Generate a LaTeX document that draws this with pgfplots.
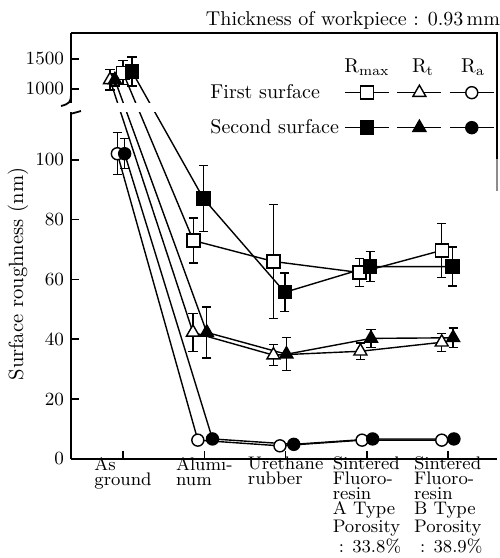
\documentclass[border=0pt]{standalone}
\usepackage{pgfplots}
\pgfplotsset{compat=1.18}
\begin{document}
\begin{tikzpicture}
\useasboundingbox (-35.5pt,-49.5pt) rectangle (214pt,229.5pt);
\begin{axis}[
  at={(0,0)}, anchor=south west,
  scale only axis, width=213pt, height=213pt,
  xmin=-0.64, xmax=4.60,
  ymin=0, ymax=1933,
  % broken axis: 0..115 linear, 1000..1933 compressed above the break
  y coord trafo/.code={\pgfmathparse{#1>400 ? 123.67+0.02*(#1-1000) : #1}},
  axis x line*=bottom, axis y line*=left,
  axis line style={-, line width=0.9pt},
  tick align=inside, major tick length=4pt,
  tick style={black, line width=0.8pt},
  xtick={0,1,2,3,4},
  xticklabels={{As\\ground},{Alumi-\\num},{Urethane\\rubber},
    {Sintered\\Fluoro-\\resin\\A Type\\Porosity\\\hspace*{3pt}: 33.8\%},
    {Sintered\\Fluoro-\\resin\\B Type\\Porosity\\\hspace*{3pt}: 38.9\%}},
  xticklabel style={align=left, anchor=north, inner sep=0pt, yshift=1.2pt,
    font=\fontsize{9.1}{7.5}\selectfont},
  ytick={0,20,40,60,80,100,1000,1500},
  yticklabels={0,20,40,60,80,100,1000,1500},
  yticklabel style={font=\fontsize{9.3}{11}\selectfont},
  every axis plot/.append style={black, line width=0.7pt},
  error bars/error bar style={line width=0.7pt},
  error bars/error mark options={rotate=90, mark size=2.3pt, line width=0.7pt},
  legend columns=3,
  legend image code/.code={\draw[mark repeat=2,mark phase=2] plot coordinates {(0pt,0pt)(11pt,0pt)(22pt,0pt)};},
  legend style={at={(0.826,0.82)}, anchor=center, draw=none, fill=none,
    nodes={inner sep=0pt}, row sep=10.5pt,
    /tikz/every odd column/.append style={column sep=2.5pt}},
]
% error values are applied after the axis break; above the break 1 unit = 50 nm
% first surface
\addplot[mark=square*, mark size=3.25pt, mark options={fill=white, solid},
  error bars/.cd, y dir=both, y explicit] coordinates {
  (0.00,1270) +- (0,4) (0.865,73) +- (0,7.5) (1.85,66) +- (0,19)
  (2.91,62.3) +- (0,4.7) (3.92,69.7) +- (0,9)};
\addlegendentry{}
\addplot[mark=triangle*, mark size=3.75pt, mark options={fill=white, solid},
  error bars/.cd, y dir=both, y explicit] coordinates {
  (-0.16,1150) +- (0,3.4) (0.86,42.3) +- (0,6.3) (1.85,34.7) +- (0,3.5)
  (2.92,36) +- (0,2.7) (3.92,39) +- (0,3)};
\addlegendentry{}
\addplot[mark=*, mark size=3pt, mark options={fill=white, solid},
  error bars/.cd, y dir=both, y explicit] coordinates {
  (-0.07,102) +- (0,7) (0.92,6.3) +- (0,0.5) (1.93,4.4) +- (0,0.5)
  (2.94,6.3) +- (0,0.5) (3.92,6.3) +- (0,0.5)};
\addlegendentry{}
% second surface
\addplot[mark=square*, mark size=3.25pt, mark options={fill=black, solid},
  error bars/.cd, y dir=both, y explicit] coordinates {
  (0.11,1290) +- (0,4.8) (0.99,87) +- (0,11) (1.99,55.7) +- (0,6.5)
  (3.04,64.3) +- (0,5) (4.05,64.3) +- (0,6.5)};
\addlegendentry{}
\addplot[mark=triangle*, mark size=3.75pt, mark options={fill=black, solid},
  error bars/.cd, y dir=both, y explicit] coordinates {
  (-0.10,1150) +- (0,2) (1.03,42.3) +- (0,8.5) (2.01,35) +- (0,5.5)
  (3.05,40.3) +- (0,3) (4.06,40.5) +- (0,3.3)};
\addlegendentry{}
\addplot[mark=*, mark size=3pt, mark options={fill=black, solid},
  error bars/.cd, y dir=both, y explicit] coordinates {
  (0.02,102) +- (0,5) (1.10,6.7) +- (0,0.5) (2.10,4.9) +- (0,0.5)
  (3.07,6.7) +- (0,0.5) (4.07,6.7) +- (0,0.5)};
\addlegendentry{}
\end{axis}
% break in the left axis
\fill[white] (-2pt,173.5pt) rectangle (95pt,178pt);
\draw[line width=0.9pt] (0,171.2pt) -- (0,172.6pt) -- (5pt,174pt);
\draw[line width=0.9pt] (0,182pt) .. controls (0,178.5pt) and (-1pt,177.5pt) .. (-5pt,176.5pt);
% frame top and right
\draw[line width=0.9pt] (0,213pt) -- (213pt,213pt) -- (213pt,150pt);
\draw[line width=0.6pt, black!45] (213pt,150pt) -- (213pt,134pt);
% texts
\node[rotate=90, font=\fontsize{10.3}{12}\selectfont] at (-26.5pt,92.5pt) {Surface roughness (nm)};
\node[font=\fontsize{10}{12}\selectfont] at (141pt,219.5pt) {Thickness of workpiece : 0.93\,mm};
\node[anchor=west, inner sep=0pt, font=\fontsize{10}{12}\selectfont] at (69.5pt,183.5pt) {First surface};
\node[anchor=west, inner sep=0pt, font=\fontsize{10}{12}\selectfont] at (69.5pt,166pt) {Second surface};
\node[font=\fontsize{10}{12}\selectfont] at (148pt,196pt) {R$_{\mathrm{max}}$};
\node[font=\fontsize{10}{12}\selectfont] at (176pt,196pt) {R$_{\mathrm{t}}$};
\node[font=\fontsize{10}{12}\selectfont] at (201pt,196pt) {R$_{\mathrm{a}}$};
\end{tikzpicture}
\end{document}
